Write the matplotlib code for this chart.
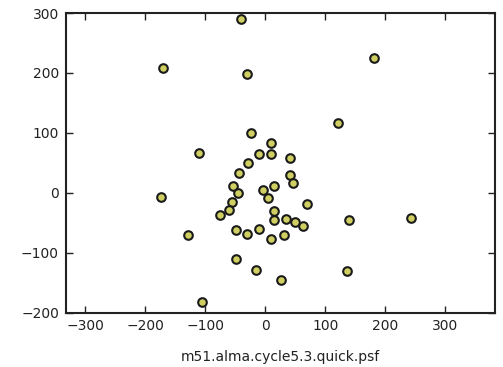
import matplotlib
matplotlib.use("Agg")
import matplotlib.pyplot as plt

x = [-41, -170, -31, 181, 121, -23, -110, 10, -11, 10, 42, -28, 41, 47, -43,
     -53, -46, -3, 14, 5, -173, -55, -61, -75, 69, 15, 15, 34, 49, 63, 139,
     243, -128, -48, -31, -11, 10, 31, -48, -15, 136, 26, -105]
y = [290, 208, 198, 225, 117, 100, 66, 83, 65, 65, 58, 50, 30, 16, 33,
     11, 0, 4, 11, -9, -7, -16, -29, -37, -19, -30, -46, -44, -49, -55, -45,
     -42, -71, -62, -69, -60, -77, -71, -110, -129, -130, -145, -183]
xticks = [-300, -200, -100, 0, 100, 200, 300]
yticks = [-200, -100, 0, 100, 200, 300]
xlabel = "m51.alma.cycle5.3.quick.psf"

fig = plt.figure(figsize=(5.03, 3.67), dpi=100)
ax = fig.add_axes([0.131, 0.1485, 0.853, 0.816])
ax.plot(x, y, 'o', ms=6.2, mfc='#cfcf63', mec='#1a1a1a', mew=1.5, ls='none')
ax.set_xlim(-332, 383)
ax.set_ylim(-200, 300)
ax.set_xticks(xticks)
ax.set_yticks(yticks)
ax.tick_params(direction='in', top=True, right=True, length=5, width=1,
               labelsize=10, colors='#222222', pad=5)
for s in ax.spines.values():
    s.set_linewidth(1.5)
    s.set_color('#222222')
ax.set_xlabel(xlabel, fontsize=10, color='#222222', labelpad=12)
fig.savefig("out.png", dpi=100)
